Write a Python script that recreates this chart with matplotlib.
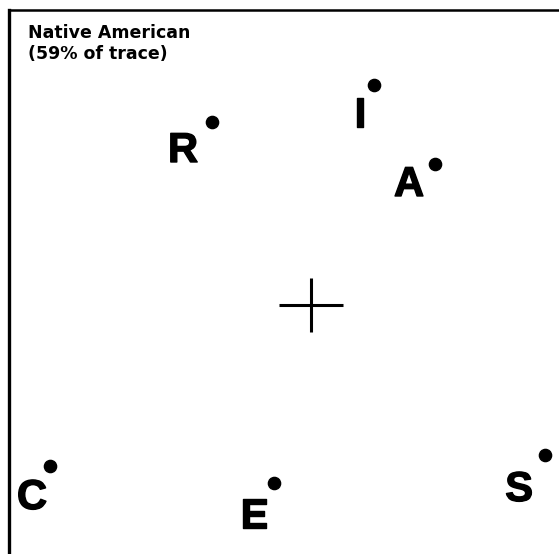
import matplotlib
matplotlib.use("Agg")
import matplotlib.pyplot as plt
import matplotlib.patheffects as pe

# Ordination scores on the first two axes (Native American, 59% of trace)
labels = ["R", "I", "A", "C", "E", "S"]
x_scores = [-0.396, 0.252, 0.496, -1.044, -0.148, 0.936]
y_scores = [0.732, 0.880, 0.564, -0.644, -0.712, -0.600]

title_lines = ["Native American", "(59% of trace)"]

# label placement relative to each point (pixels): right edge / top edge of the letter
label_offsets = [(-14, -9), (-8, -11), (-11, -1), (-3, -12), (-6, -14), (-12, -15)]

W, H, DPI = 559, 554, 100
fig = plt.figure(figsize=(W / DPI, H / DPI), dpi=DPI)
fig.patch.set_facecolor("white")

left_px, top_px = 9, 10
ax = fig.add_axes([left_px / W, 0, (W - left_px) / W, (H - top_px) / H])

ax.set_xlim(-1.208, 0.992)
ax.set_ylim(-0.996, 1.180)

for side in ("right", "bottom"):
    ax.spines[side].set_visible(False)
ax.spines["left"].set_linewidth(2.4)
ax.spines["top"].set_linewidth(1.8)
ax.set_xticks([])
ax.set_yticks([])

# centroid cross
ax.plot([-0.128, 0.128], [0, 0], color="black", lw=2.2, solid_capstyle="butt")
ax.plot([0, 0], [-0.108, 0.108], color="black", lw=2.2, solid_capstyle="butt")

ax.plot(x_scores, y_scores, "o", color="black", markersize=8.8, linestyle="none")

heavy = [pe.withStroke(linewidth=1.0, foreground="black")]
for lab, xv, yv, (dx, dy) in zip(labels, x_scores, y_scores, label_offsets):
    ax.annotate(lab, (xv, yv), xytext=(dx, dy), textcoords="offset pixels",
                ha="right", va="top", fontsize=30, fontweight="bold",
                family="Liberation Sans", color="black", path_effects=heavy)

ax.annotate("\n".join(title_lines), (0, 1), xycoords="axes fraction",
            xytext=(19, -14), textcoords="offset pixels",
            ha="left", va="top", fontsize=12.5, fontweight="bold",
            family="DejaVu Sans", linespacing=1.2, color="black")

fig.savefig("out.png", dpi=DPI, facecolor="white")
